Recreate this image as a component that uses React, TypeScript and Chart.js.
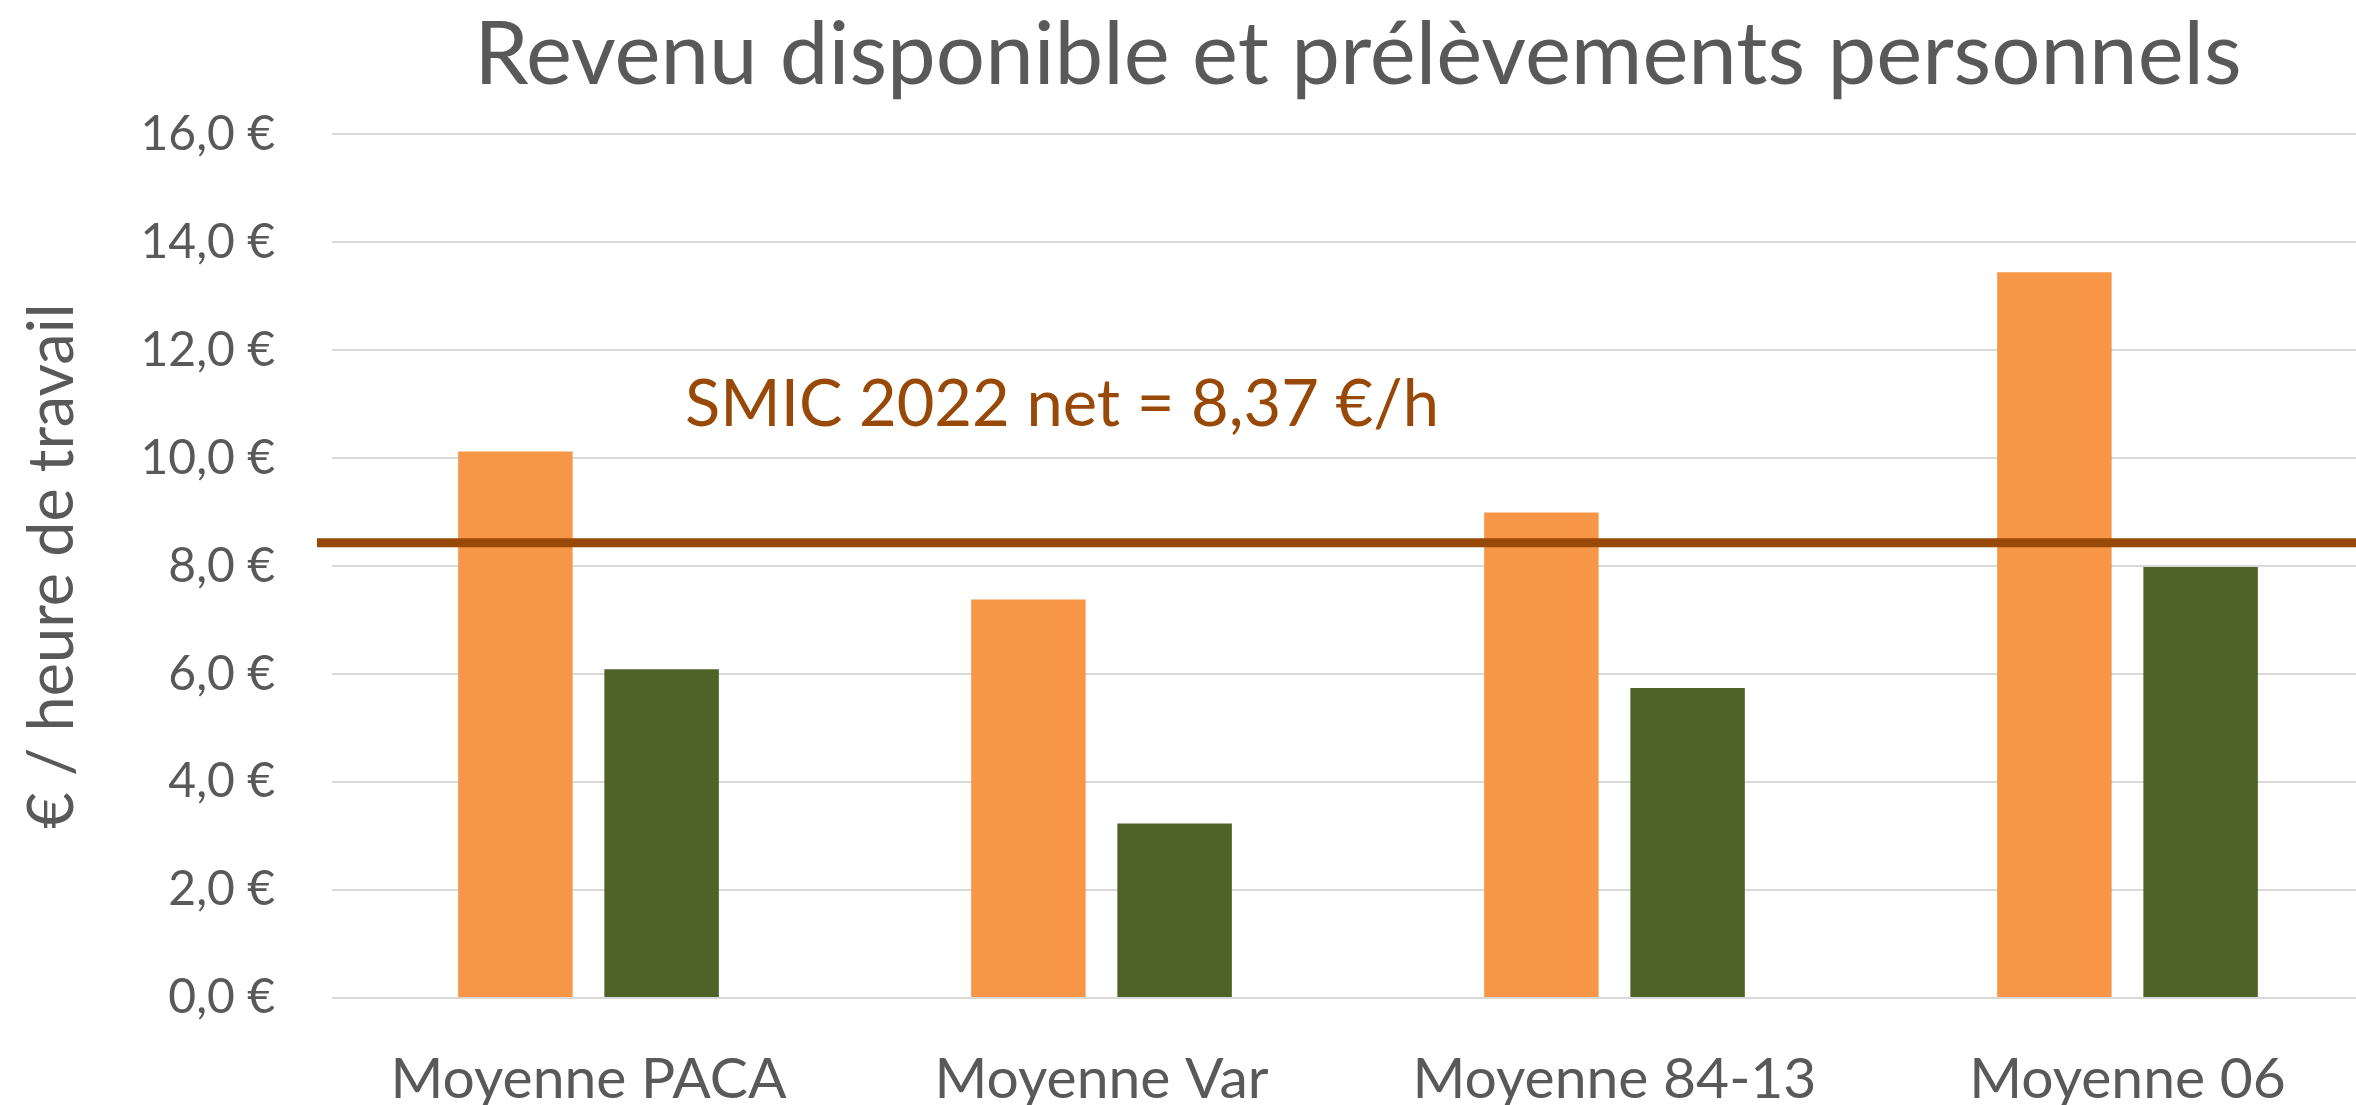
import React, { useEffect, useRef } from 'react';
import { Chart, registerables } from 'chart.js';

Chart.register(...registerables);

const categories = ['Moyenne PACA', 'Moyenne Var', 'Moyenne 84-13', 'Moyenne 06'];
const revenuDisponible = [10.12, 7.38, 8.99, 13.44];
const prelevements = [6.09, 3.23, 5.74, 7.98];
const seriesNames = ['Revenu disponible', 'Prélèvements personnels'];
const smicValue = 8.43;
const smicLabel = 'SMIC 2022 net = 8,37 €/h';
const titleText = 'Revenu disponible et prélèvements personnels';
const yAxisTitle = '€ / heure de travail';
const yMin = 0;
const yMax = 16;
const yStep = 2;

const GRAY = '#595959';
const ORANGE = '#F79646';
const GREEN = '#4F6228';
const BROWN = '#984807';
const FONT = 'Lato';

const smicPlugin = {
  id: 'smicLine',
  afterDatasetsDraw(chart: any) {
    const { ctx, chartArea, scales } = chart;
    const py = scales.y.getPixelForValue(smicValue);
    ctx.save();
    ctx.strokeStyle = BROWN;
    ctx.lineWidth = 9;
    ctx.beginPath();
    ctx.moveTo(chartArea.left - 15, py);
    ctx.lineTo(chartArea.right, py);
    ctx.stroke();
    ctx.fillStyle = BROWN;
    ctx.font = `65px ${FONT}`;
    ctx.textAlign = 'center';
    ctx.textBaseline = 'alphabetic';
    ctx.fillText(smicLabel, chartArea.left + 730, py - 117);
    ctx.restore();
  },
};

export default function App() {
  const canvasRef = useRef<HTMLCanvasElement | null>(null);

  useEffect(() => {
    if (!canvasRef.current) return;
    const chart = new Chart(canvasRef.current, {
      type: 'bar',
      data: {
        labels: categories,
        datasets: [
          {
            label: seriesNames[0],
            data: revenuDisponible,
            backgroundColor: ORANGE,
            borderWidth: 0,
            categoryPercentage: 0.57,
            barPercentage: 0.783,
          },
          {
            label: seriesNames[1],
            data: prelevements,
            backgroundColor: GREEN,
            borderWidth: 0,
            categoryPercentage: 0.57,
            barPercentage: 0.783,
          },
        ],
      },
      options: {
        responsive: false,
        animation: false,
        layout: { padding: 0 },
        plugins: {
          legend: { display: false },
          tooltip: { enabled: false },
          title: {
            display: true,
            text: titleText,
            fullSize: false,
            color: GRAY,
            font: { family: FONT, size: 87, weight: 'normal', lineHeight: 1.15 },
            padding: { top: 6, bottom: 28 },
          },
        },
        scales: {
          x: {
            grid: { display: false },
            border: { display: false },
            ticks: {
              color: GRAY,
              font: { family: FONT, size: 57 },
              padding: 39,
              maxRotation: 0,
              autoSkip: false,
            },
            afterFit: (s: any) => {
              s.height = 107;
            },
          },
          y: {
            min: yMin,
            max: yMax,
            ticks: {
              stepSize: yStep,
              padding: 57,
              color: GRAY,
              font: { family: FONT, size: 48 },
              callback: (v: any) => Number(v).toFixed(1).replace('.', ',') + ' €',
            },
            grid: { color: '#D9D9D9', lineWidth: 2, drawTicks: false },
            border: { display: false },
            title: {
              display: true,
              text: yAxisTitle,
              color: GRAY,
              font: { family: FONT, size: 63 },
              padding: { top: 15, bottom: 0 },
            },
            afterFit: (s: any) => {
              s.width = 332;
            },
          },
        },
      },
      plugins: [smicPlugin],
    } as any);
    return () => chart.destroy();
  }, []);

  return (
    <div
      style={{
        position: 'absolute',
        left: 0,
        top: 0,
        width: 2356,
        height: 1105,
        overflow: 'hidden',
        background: '#fff',
      }}
    >
      <canvas
        ref={canvasRef}
        width={2384}
        height={1105}
        style={{ width: 2384, height: 1105, display: 'block' }}
      />
    </div>
  );
}
